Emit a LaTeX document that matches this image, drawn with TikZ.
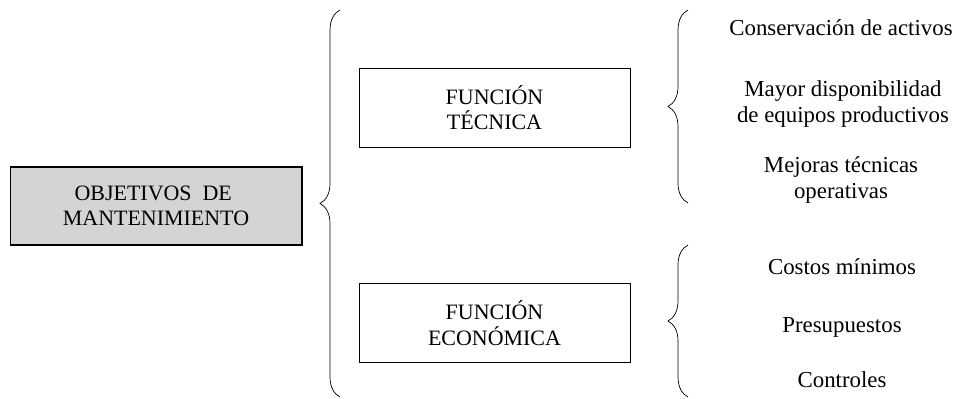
\documentclass[tikz,border=0pt]{standalone}
\usepackage{fontspec}
\setmainfont{Liberation Serif}
\usepackage{tikz}
\usetikzlibrary{positioning, calc, decorations.pathreplacing}

\begin{document}
\begin{tikzpicture}[
    x=0.02cm, y=-0.02cm,
    mainbox/.style={draw, semithick, fill=black!17, minimum width=5.84cm, minimum height=1.56cm, align=center, font=\fontsize{12.5}{14.5}\selectfont},
    funcbox/.style={draw, thin, minimum width=5.42cm, minimum height=1.58cm, align=center, font=\fontsize{12.5}{14.5}\selectfont},
    item/.style={align=center, font=\fontsize{13}{14.8}\selectfont},
    curly/.style={decorate, decoration={brace, amplitude=0.4cm}, thin}
]
    \useasboundingbox (0,0) rectangle (954,399);

    % Objetivo principal
    \node[mainbox] (obj) at (156,206) {OBJETIVOS\ \ DE\ \ \\MANTENIMIENTO};

    % Funciones
    \node[funcbox] (tec) at (494.5,107.5) {FUNCIÓN\\TÉCNICA};
    \node[funcbox] (eco) at (494.5,323) {FUNCIÓN\\ECONÓMICA};

    % Llaves
    \coordinate (bigtop) at (340,10);
    \coordinate (bigbot) at (340,397);
    \draw[curly] (bigbot) -- (bigtop);

    \coordinate (tectop) at (688,10);
    \coordinate (tecbot) at (688,203);
    \draw[curly] (tecbot) -- (tectop);

    \coordinate (ecotop) at (688,245);
    \coordinate (ecobot) at (688,397);
    \draw[curly] (ecobot) -- (ecotop);

    % Funcion tecnica
    \node[item] (cons) at (841,28) {Conservación de activos};
    \node[item] (disp) at (843,104) {Mayor disponibilidad\\de equipos productivos};
    \node[item] (mej) at (841,180) {Mejoras técnicas\\operativas};

    % Funcion economica
    \node[item] (cost) at (842,267) {Costos mínimos};
    \node[item] (pres) at (842,327) {Presupuestos};
    \node[item] (ctrl) at (842,380) {Controles};

\end{tikzpicture}
\end{document}
